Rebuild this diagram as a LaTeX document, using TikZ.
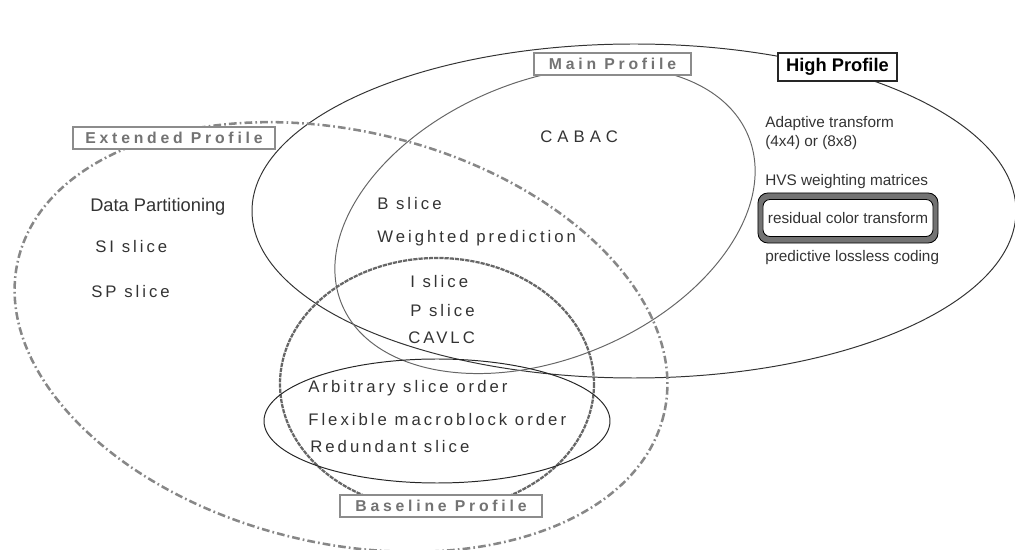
\documentclass[tikz,border=0pt]{standalone}
\usepackage{fontspec}
\setmainfont{Liberation Sans}
\newfontfamily\featfont[LetterSpace=18]{Liberation Sans}
\newfontfamily\cabacfont[LetterSpace=30]{Liberation Sans}
\newfontfamily\proffont[LetterSpace=24]{Liberation Sans}

\begin{document}
\begin{tikzpicture}[x=0.025cm, y=-0.025cm,
  feat/.style={anchor=base west, inner sep=0, text=black!80,
    font=\featfont\fontsize{11.9}{14}\selectfont},
  hifeat/.style={anchor=base west, inner sep=0, text=black!80,
    font=\fontsize{10.9}{13}\selectfont},
  proflabel/.style={draw=black!45, fill=white, line width=0.8pt, inner sep=0,
    minimum height=0.55cm, text=black!55,
    font=\proffont\bfseries\fontsize{11.2}{13}\selectfont}]
  \useasboundingbox (0,0) rectangle (1015,550);

  % profile outlines
  \draw [black!80, line width=0.7pt] (634,211) ellipse [x radius=382, y radius=167];
  \draw [black!60, line width=0.7pt, rotate around={22.5:(545,220)}]
    (545,220) ellipse [x radius=220, y radius=139];
  \draw [black!47, line width=1.8pt, dash pattern=on 5.5pt off 2.2pt on 1.2pt off 2.2pt,
    rotate around={-13.5:(341,337)}] (341,337) ellipse [x radius=332, y radius=206];
  \draw [black!60, line width=1.6pt, dash pattern=on 3pt off 0.7pt]
    (437,384) ellipse [x radius=157, y radius=126];
  \draw [black!85, line width=0.7pt] (437,421) ellipse [x radius=173, y radius=62];

  % profile names
  \node [proflabel, minimum width=5.05cm] (extended) at (174,138) {Extended Profile};
  \node [proflabel, minimum width=3.925cm] (main) at (612.5,64) {Main Profile};
  \node [draw=black!85, fill=white, line width=0.8pt, inner sep=0,
    minimum width=2.975cm, minimum height=0.7cm,
    font=\bfseries\fontsize{13}{15}\selectfont] (high) at (837.5,67) {High Profile};
  \node [proflabel, minimum width=5.05cm] (baseline) at (441,506) {Baseline Profile};

  % extended only
  \node [feat, font=\fontsize{13}{15}\selectfont] (datapart) at (90,212) {Data Partitioning};
  \node [feat] (sislice) at (95,253) {SI slice};
  \node [feat] (spslice) at (91,298) {SP slice};

  % main
  \node [feat, font=\cabacfont\fontsize{11.9}{14}\selectfont] (cabac) at (540,143) {CABAC};
  \node [feat] (bslice) at (377,210) {B slice};
  \node [feat] (weighted) at (377,243) {Weighted prediction};

  % common core
  \node [feat] (islice) at (410,288) {I slice};
  \node [feat] (pslice) at (410,317) {P slice};
  \node [feat] (cavlc) at (408,344) {CAVLC};

  % baseline + extended
  \node [feat] (aso) at (308,393) {Arbitrary slice order};
  \node [feat] (fmo) at (308,426) {Flexible macroblock order};
  \node [feat] (redundant) at (310,453) {Redundant slice};

  % high
  \node [hifeat] (adaptive) at (765,128) {Adaptive transform};
  \node [hifeat] (blocksize) at (765,147) {(4x4) or (8x8)};
  \node [hifeat] (hvs) at (765,186) {HVS weighting matrices};
  \node [draw=black, fill=black!55, line width=0.6pt, rounded corners=7pt,
    minimum width=4.5cm, minimum height=1.25cm] (rctframe) at (848,218) {};
  \node [draw=black, fill=white, line width=0.6pt, rounded corners=5pt, inner sep=0,
    minimum width=4.25cm, minimum height=0.925cm, text=black!80,
    font=\fontsize{10.9}{13}\selectfont] (rct) at (rctframe.center) {residual color transform};
  \node [hifeat] (lossless) at (765,262) {predictive lossless coding};
\end{tikzpicture}
\end{document}
